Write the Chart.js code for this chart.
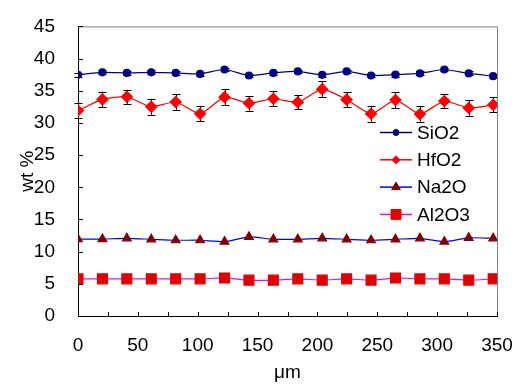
<!DOCTYPE html>
<html>
<head>
<meta charset="utf-8">
<style>
  html, body { margin: 0; padding: 0; background: #fff; }
</style>
<script src="https://cdn.jsdelivr.net/npm/chart.js@4.4.0/dist/chart.umd.min.js"></script>
</head>
<body>
<canvas id="chart" width="522" height="388"></canvas>
<script>
// --- data ---
const positions = [0, 20.4, 40.8, 61.2, 81.6, 102, 122.4, 142.8, 163.2, 183.6, 204, 224.4, 244.8, 265.2, 285.6, 306, 326.4, 346.8];
const sio2    = [37.47, 37.86, 37.77, 37.86, 37.77, 37.62, 38.30, 37.37, 37.77, 38.00, 37.47, 38.00, 37.37, 37.50, 37.70, 38.30, 37.70, 37.27];
const sio2Err = [0.3, 0.3, 0.3, 0.3, 0.3, 0.3, 0.3, 0.3, 0.3, 0.3, 0.3, 0.3, 0.3, 0.3, 0.3, 0.3, 0.3, 0.3];
const hfo2    = [31.92, 33.66, 34.06, 32.51, 33.25, 31.43, 34.00, 33.06, 33.76, 33.21, 35.25, 33.61, 31.43, 33.55, 31.38, 33.40, 32.32, 32.81];
const hfo2Err = [1.2, 1.19, 1.1, 1.24, 1.19, 1.19, 1.2, 1.14, 1.14, 1.09, 1.19, 1.14, 1.24, 1.24, 1.19, 1.09, 1.19, 1.16];
const na2o    = [11.96, 11.96, 12.07, 11.92, 11.77, 11.77, 11.56, 12.30, 11.92, 11.92, 12.07, 11.92, 11.77, 11.92, 12.07, 11.56, 12.15, 12.07];
const al2o3   = [5.77, 5.77, 5.77, 5.77, 5.77, 5.77, 5.91, 5.57, 5.57, 5.77, 5.57, 5.77, 5.57, 5.91, 5.77, 5.77, 5.57, 5.77];

const xTickLabels = [0, 50, 100, 150, 200, 250, 300, 350];
const xTickMarks  = [0, 25, 50, 75, 100, 125, 150, 175, 200, 225, 250, 275, 300, 325, 350];
const yTickLabels = [0, 5, 10, 15, 20, 25, 30, 35, 40, 45];

const FONT = 'Arial, "Liberation Sans", sans-serif';
const toPoints = (vals) => positions.map((x, i) => ({ x: x, y: vals[i] }));

// error bars, tick marks, grey frame and legend
const extras = {
    id: 'extras',
    beforeDatasetsDraw(chart) {
        const ctx = chart.ctx;
        const x = chart.scales.x, y = chart.scales.y;
        const bars = [[sio2, sio2Err], [hfo2, hfo2Err]];
        ctx.save();
        ctx.strokeStyle = '#000';
        ctx.lineWidth = 1;
        bars.forEach(([vals, errs]) => {
            vals.forEach((v, i) => {
                const px = Math.round(x.getPixelForValue(positions[i])) + 0.5;
                const top = y.getPixelForValue(v + errs[i]);
                const bot = y.getPixelForValue(v - errs[i]);
                ctx.beginPath();
                ctx.moveTo(px, top); ctx.lineTo(px, bot);
                ctx.moveTo(px - 4, Math.round(top) + 0.5); ctx.lineTo(px + 4, Math.round(top) + 0.5);
                ctx.moveTo(px - 4, Math.round(bot) + 0.5); ctx.lineTo(px + 4, Math.round(bot) + 0.5);
                ctx.stroke();
            });
        });
        ctx.restore();
    },
    afterDraw(chart) {
        const ctx = chart.ctx;
        const a = chart.chartArea;
        const x = chart.scales.x, y = chart.scales.y;
        ctx.save();
        // grey top / right frame
        ctx.strokeStyle = '#808080';
        ctx.lineWidth = 1;
        ctx.beginPath();
        ctx.moveTo(a.left, a.top + 0.5); ctx.lineTo(a.right + 0.5, a.top + 0.5);
        ctx.lineTo(a.right + 0.5, a.bottom);
        ctx.stroke();
        // inside tick marks
        ctx.strokeStyle = '#000';
        ctx.beginPath();
        xTickMarks.forEach(v => {
            const px = Math.round(x.getPixelForValue(v)) + 0.5;
            ctx.moveTo(px, a.bottom); ctx.lineTo(px, a.bottom - 4);
        });
        yTickLabels.forEach(v => {
            const py = Math.round(y.getPixelForValue(v)) + 0.5;
            ctx.moveTo(a.left, py); ctx.lineTo(a.left + 5, py);
        });
        ctx.stroke();

        // legend: line + marker + text
        const lx = 380, ly = 132.5, step = 27.3;
        chart.data.datasets.forEach((ds, i) => {
            const yy = ly + i * step;
            ctx.strokeStyle = ds.borderColor;
            ctx.lineWidth = 1.5;
            ctx.beginPath();
            ctx.moveTo(lx, yy); ctx.lineTo(lx + 32, yy);
            ctx.stroke();
            ctx.fillStyle = ds.pointBackgroundColor;
            ctx.strokeStyle = ds.pointBorderColor;
            ctx.lineWidth = 1;
            Chart.helpers.drawPoint(ctx, {
                pointStyle: ds.pointStyle, rotation: 0,
                radius: ds.legendRadius, borderWidth: 1
            }, lx + 16, yy);
            ctx.fillStyle = '#000';
            ctx.font = '19px ' + FONT;
            ctx.textBaseline = 'middle';
            ctx.textAlign = 'left';
            ctx.fillText(ds.label, lx + 37, yy + 1);
        });
        ctx.restore();
    }
};

const ctx = document.getElementById('chart').getContext('2d');
new Chart(ctx, {
    type: 'line',
    data: {
        datasets: [
            { label: 'SiO2', data: toPoints(sio2), borderColor: '#000080', borderWidth: 1.2,
              pointStyle: 'circle', pointRadius: 3.5, legendRadius: 3,
              pointBackgroundColor: '#000080', pointBorderColor: '#000080' },
            { label: 'HfO2', data: toPoints(hfo2), borderColor: '#ff0000', borderWidth: 1.2,
              pointStyle: 'rectRot', pointRadius: 5.5, legendRadius: 4,
              pointBackgroundColor: '#ff0000', pointBorderColor: '#ff0000' },
            { label: 'Na2O', data: toPoints(na2o), borderColor: '#0000ff', borderWidth: 1.2,
              pointStyle: 'triangle', pointRadius: 5, legendRadius: 5,
              pointBackgroundColor: '#800000', pointBorderColor: '#800000' },
            { label: 'Al2O3', data: toPoints(al2o3), borderColor: '#ff00ff', borderWidth: 1.2,
              pointStyle: 'rect', pointRadius: 7, legendRadius: 7,
              pointBackgroundColor: '#e00000', pointBorderColor: '#e00000' }
        ]
    },
    options: {
        responsive: false,
        animation: false,
        devicePixelRatio: 1,
        elements: { line: { tension: 0.2, fill: false } },
        layout: { padding: { top: 13, right: 25, left: 0, bottom: 0 } },
        plugins: { legend: { display: false }, tooltip: { enabled: false } },
        scales: {
            x: {
                type: 'linear', min: 0, max: 350,
                afterBuildTicks: (s) => { s.ticks = xTickLabels.map(v => ({ value: v })); },
                afterFit: (s) => { s.height = 72; s.paddingLeft = 0; s.paddingRight = 0; },
                grid: { display: false },
                border: { display: true, color: '#000', width: 1 },
                ticks: { color: '#000', padding: 10, maxRotation: 0, autoSkip: false, font: { family: FONT, size: 19 } },
                title: { display: true, text: 'μm', color: '#000', font: { family: FONT, size: 19 }, padding: { top: 0, bottom: 4 } }
            },
            y: {
                min: 0, max: 45,
                afterBuildTicks: (s) => { s.ticks = yTickLabels.map(v => ({ value: v })); },
                afterFit: (s) => { s.width = 78; },
                grid: { display: false },
                border: { display: true, color: '#000', width: 1 },
                ticks: { color: '#000', padding: 15, autoSkip: false, font: { family: FONT, size: 19 } },
                title: { display: true, text: 'wt %', color: '#000', font: { family: FONT, size: 19 }, padding: { top: 16, bottom: 0 } }
            }
        }
    },
    plugins: [extras]
});
</script>
</body>
</html>
